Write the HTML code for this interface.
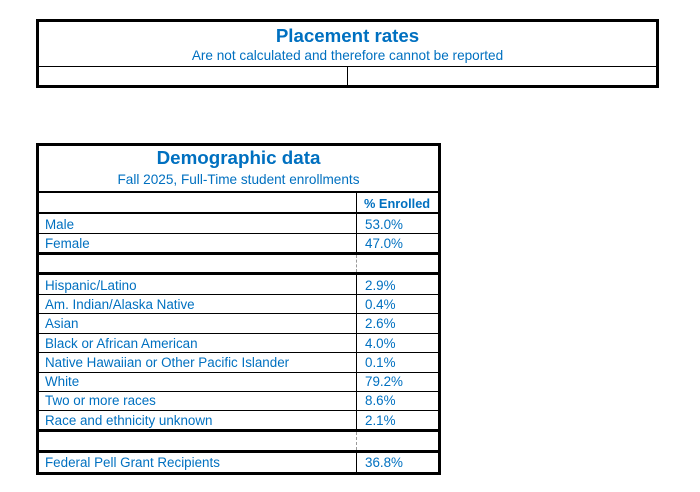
<!DOCTYPE html>
<html><head><style>
body{margin:0;width:700px;height:492px;background:#fff;position:relative;font-family:"Liberation Sans",sans-serif;color:#0070c0;overflow:hidden}
.a{position:absolute}
.h{position:absolute;background:#000;height:1px}
.t{position:absolute;font-size:13.4px;line-height:19px;white-space:nowrap}
</style></head><body>
<!-- top box -->
<div class="a" style="left:36px;top:19px;width:617px;height:63px;border:3px solid #000"></div>
<div class="t" style="left:36px;width:623px;top:25px;text-align:center;font-size:18.7px;font-weight:bold;line-height:22px">Placement rates</div>
<div class="t" style="left:36px;width:623px;top:48px;text-align:center;font-size:13.6px;line-height:16px">Are not calculated and therefore cannot be reported</div>
<div class="h" style="left:36px;width:622px;top:66px"></div>
<div class="a" style="left:347px;top:66px;width:1px;height:19px;background:#000"></div>

<!-- bottom box -->
<div class="a" style="left:36px;top:143px;width:399px;height:326px;border:3px solid #000"></div>
<div class="t" style="left:36px;width:405px;top:147px;text-align:center;font-size:18.8px;font-weight:bold;line-height:22px">Demographic data</div>
<div class="t" style="left:36px;width:405px;top:172px;text-align:center;font-size:13.6px;line-height:16px">Fall 2025, Full-Time student enrollments</div>
<div class="h" style="left:36px;width:405px;top:191px;height:2px"></div>
<div class="h" style="left:36px;width:405px;top:212px;height:2px"></div>
<div class="h" style="left:36px;width:405px;top:233px"></div>
<div class="h" style="left:36px;width:405px;top:252px;height:3px"></div>
<div class="h" style="left:36px;width:405px;top:272px;height:3px"></div>
<div class="h" style="left:36px;width:405px;top:294px"></div>
<div class="h" style="left:36px;width:405px;top:313px"></div>
<div class="h" style="left:36px;width:405px;top:333px"></div>
<div class="h" style="left:36px;width:405px;top:352px"></div>
<div class="h" style="left:36px;width:405px;top:372px"></div>
<div class="h" style="left:36px;width:405px;top:391px"></div>
<div class="h" style="left:36px;width:405px;top:410px"></div>
<div class="h" style="left:36px;width:405px;top:429px;height:3px"></div>
<div class="h" style="left:36px;width:405px;top:450px;height:3px"></div>
<div class="a" style="left:356px;top:192px;width:1px;height:62px;background:#000"></div>
<div class="a" style="left:356px;top:255px;width:0;height:17px;border-left:1px dashed #999"></div>
<div class="a" style="left:356px;top:275px;width:1px;height:155px;background:#000"></div>
<div class="a" style="left:356px;top:432px;width:0;height:18px;border-left:1px dashed #999"></div>
<div class="a" style="left:356px;top:453px;width:1px;height:19px;background:#000"></div>

<div class="t" style="left:364px;top:194px;font-weight:bold;font-size:12.8px">% Enrolled</div>
<div class="t" style="left:45px;top:215px">Male</div><div class="t" style="left:365px;top:215px">53.0%</div>
<div class="t" style="left:45px;top:234px">Female</div><div class="t" style="left:365px;top:234px">47.0%</div>
<div class="t" style="left:45px;top:276px">Hispanic/Latino</div><div class="t" style="left:365px;top:276px">2.9%</div>
<div class="t" style="left:45px;top:295px">Am. Indian/Alaska Native</div><div class="t" style="left:365px;top:295px">0.4%</div>
<div class="t" style="left:45px;top:314px">Asian</div><div class="t" style="left:365px;top:314px">2.6%</div>
<div class="t" style="left:45px;top:334px">Black or African American</div><div class="t" style="left:365px;top:334px">4.0%</div>
<div class="t" style="left:45px;top:353px">Native Hawaiian or Other Pacific Islander</div><div class="t" style="left:365px;top:353px">0.1%</div>
<div class="t" style="left:45px;top:372px">White</div><div class="t" style="left:365px;top:372px">79.2%</div>
<div class="t" style="left:45px;top:391px">Two or more races</div><div class="t" style="left:365px;top:391px">8.6%</div>
<div class="t" style="left:45px;top:411px">Race and ethnicity unknown</div><div class="t" style="left:365px;top:411px">2.1%</div>
<div class="t" style="left:45px;top:453px">Federal Pell Grant Recipients</div><div class="t" style="left:365px;top:453px">36.8%</div>
</body></html>
